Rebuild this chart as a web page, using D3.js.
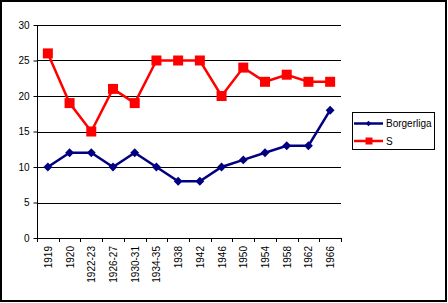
<!DOCTYPE html>
<html>
<head>
<meta charset="utf-8">
<script src="https://cdn.jsdelivr.net/npm/d3@7"></script>
<style>
  body { margin: 0; background: #fff; }
  text { font-family: "Liberation Sans", Arial, sans-serif; font-size: 10px; fill: #000; }
</style>
</head>
<body>
<script>
// data
var years = ["1919", "1920", "1922-23", "1926-27", "1930-31", "1934-35", "1938", "1942", "1946", "1950", "1954", "1958", "1962", "1966"];
var borgerliga = [10, 12, 12, 10, 12, 10, 8, 8, 10, 11, 12, 13, 13, 18];
var sValues = [26, 19, 15, 21, 19, 25, 25, 25, 20, 24, 22, 23, 22, 22];
var yTicks = [0, 5, 10, 15, 20, 25, 30];

var W = 448, H = 303;
var pLeft = 37, pTop = 25, pRight = 341, pBottom = 238;

var svg = d3.select("body").append("svg")
    .attr("width", W)
    .attr("height", H);

svg.append("rect")
    .attr("x", 1).attr("y", 1)
    .attr("width", 445).attr("height", 300)
    .attr("fill", "#fff")
    .attr("stroke", "#000")
    .attr("stroke-width", 2);

var x = d3.scaleBand().domain(years).range([pLeft, pRight]);
var y = d3.scaleLinear().domain([0, 30]).range([pBottom, pTop]);

// gridlines
svg.append("g").selectAll("line")
    .data(yTicks.filter(d => d > 0))
    .enter().append("line")
    .attr("x1", pLeft).attr("x2", pRight)
    .attr("y1", d => Math.round(y(d)) + 0.5)
    .attr("y2", d => Math.round(y(d)) + 0.5)
    .attr("stroke", "#000")
    .attr("stroke-width", 1);

// y axis
var yAxis = svg.append("g")
    .attr("transform", "translate(" + (pLeft + 0.5) + ",0)")
    .call(d3.axisLeft(y).tickValues(yTicks).tickSize(4).tickPadding(4));
yAxis.selectAll("line").attr("stroke", "#000");
yAxis.select(".domain").attr("stroke", "#000").attr("d", "M0," + pTop + "V" + (pBottom + 0.5));
yAxis.selectAll("text").style("font-family", "Liberation Sans").style("font-size", "10px");

// x axis: ticks at category boundaries
var xg = svg.append("g");
xg.append("line")
    .attr("x1", pLeft).attr("x2", pRight)
    .attr("y1", pBottom + 0.5).attr("y2", pBottom + 0.5)
    .attr("stroke", "#000");
xg.selectAll(".tk")
    .data(years.map(d => x(d)).concat([pRight]))
    .enter().append("line")
    .attr("x1", d => Math.round(d) + 0.5).attr("x2", d => Math.round(d) + 0.5)
    .attr("y1", pBottom).attr("y2", pBottom + 4)
    .attr("stroke", "#000");
xg.selectAll("text")
    .data(years)
    .enter().append("text")
    .attr("transform", d => "translate(" + (x(d) + x.bandwidth() / 2 + 4) + "," + (pBottom + 8) + ") rotate(-90)")
    .attr("text-anchor", "end")
    .text(d => d);

function cx(i) { return x(years[i]) + x.bandwidth() / 2; }

var line = d3.line().x((d, i) => cx(i)).y(d => y(d));

// Borgerliga
svg.append("path")
    .datum(borgerliga)
    .attr("d", line)
    .attr("fill", "none")
    .attr("stroke", "#000080")
    .attr("stroke-width", 2.5);
svg.append("g").selectAll("path")
    .data(borgerliga)
    .enter().append("path")
    .attr("d", d3.symbol().type(d3.symbolDiamond2).size(50))
    .attr("transform", (d, i) => "translate(" + cx(i) + "," + y(d) + ")")
    .attr("fill", "#000080");

// S
svg.append("path")
    .datum(sValues)
    .attr("d", line)
    .attr("fill", "none")
    .attr("stroke", "#ff0000")
    .attr("stroke-width", 2.5);
svg.append("g").selectAll("rect")
    .data(sValues)
    .enter().append("rect")
    .attr("x", (d, i) => cx(i) - 5)
    .attr("y", d => y(d) - 5)
    .attr("width", 10).attr("height", 10)
    .attr("fill", "#ff0000");

// legend
var lg = svg.append("g");
lg.append("rect")
    .attr("x", 352.5).attr("y", 112.5)
    .attr("width", 82).attr("height", 37)
    .attr("fill", "#fff")
    .attr("stroke", "#000");
var legendItems = [
    { name: "Borgerliga", color: "#000080", y: 123.5 },
    { name: "S", color: "#ff0000", y: 141 }
];
legendItems.forEach(function (it, k) {
    lg.append("line")
        .attr("x1", 354).attr("x2", 383)
        .attr("y1", it.y).attr("y2", it.y)
        .attr("stroke", it.color)
        .attr("stroke-width", 2.5);
    if (k == 0) {
        lg.append("path")
            .attr("d", d3.symbol().type(d3.symbolDiamond2).size(20))
            .attr("transform", "translate(368.5," + it.y + ")")
            .attr("fill", it.color);
    } else {
        lg.append("rect")
            .attr("x", 365.5).attr("y", it.y - 3.5)
            .attr("width", 7).attr("height", 7)
            .attr("fill", it.color);
    }
    lg.append("text")
        .attr("x", 386).attr("y", it.y + 3.5)
        .text(it.name);
});
</script>
</body>
</html>
